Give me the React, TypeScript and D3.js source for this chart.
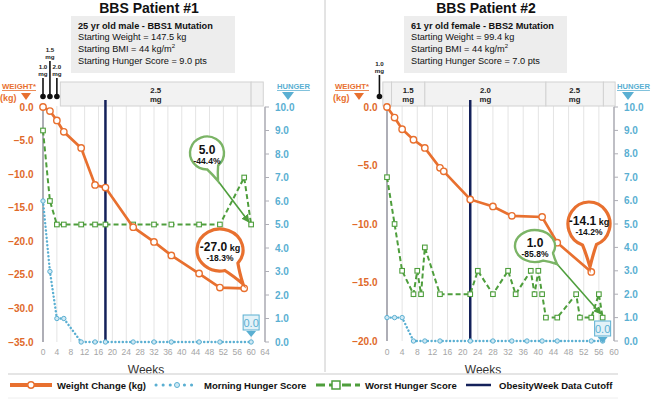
import React from 'react';
import * as d3 from 'd3';

const FONT = "'Liberation Sans', Arial, Helvetica, sans-serif";
const ORANGE = '#E8702F';
const ORANGE_TXT = '#E0692A';
const BLUE = '#5AAFD2';
const GREEN = '#4E9E3C';
const GREEN_CALLOUT = '#7BB466';
const NAVY = '#14215A';
const AXIS_GRAY = '#AEAEB6';
const GRID = '#E4E4E4';

// ---------- Patient 1 data ----------
const p1Title = 'BBS Patient #1';
const p1Info = ['25 yr old male - BBS1 Mutation', 'Starting Weight = 147.5 kg', 'Starting BMI = 44 kg/m', 'Starting Hunger Score = 9.0 pts'];
const p1WeightWeeks = [0, 2, 4, 6, 11, 15, 18, 26, 32, 37, 45, 51, 58];
const p1Weight = [0, -0.6, -2.0, -3.7, -6.1, -11.6, -12.0, -17.9, -20.1, -22.1, -24.8, -26.9, -27.0];
const p1MorningWeeks = [0, 2, 4, 6, 11, 15, 18, 26, 32, 37, 45, 51, 60];
const p1Morning = [6, 3, 1, 1, 0, 0, 0, 0, 0, 0, 0, 0, 0];
const p1WorstWeeks = [0, 2, 4, 6, 11, 15, 18, 26, 32, 37, 45, 51, 58, 60];
const p1Worst = [9, 6, 5, 5, 5, 5, 5, 5, 5, 5, 5, 5, 7, 5];
const p1Cutoff = 18;
const p1XTicks = d3.range(0, 65, 4);
const p1WTicks = [0, -5, -10, -15, -20, -25, -30, -35];
const p1DoseCells = [{ from: 5, to: 60, label: '2.5' }, { from: 60, to: 63.5, label: '' }];
const p1Pins = [{ week: 0, label: '1.0', high: false }, { week: 2, label: '1.5', high: true }, { week: 4, label: '2.0', high: false }];
const p1WeightCallout = { main: '-27.0', unit: ' kg', pct: '-18.3%' };
const p1HungerCallout = { main: '5.0', pct: '-44.4%' };
const p1MorningCallout = '0.0';

// ---------- Patient 2 data ----------
const p2Title = 'BBS Patient #2';
const p2Info = ['61 yr old female - BBS2 Mutation', 'Starting Weight = 99.4 kg', 'Starting BMI = 44 kg/m', 'Starting Hunger Score = 7.0 pts'];
const p2WeightWeeks = [0, 2, 4, 7, 10, 14, 15, 22, 28, 33, 41, 45, 54];
const p2Weight = [0, -0.9, -1.9, -2.8, -3.5, -5.2, -5.5, -7.9, -8.5, -9.3, -9.4, -11.6, -14.1];
const p2MorningWeeks = [0, 2, 4, 7, 10, 14, 22, 28, 33, 37, 41, 45, 54, 57];
const p2Morning = [1, 1, 1, 0, 0, 0, 0, 0, 0, 0, 0, 0, 0, 0];
const p2WorstWeeks = [0, 2, 4, 7, 8, 9, 10, 14, 22, 24, 28, 32, 34, 38, 39, 40, 41, 42, 45, 50, 51, 54, 56, 57];
const p2Worst = [7, 5, 3, 2, 3, 2, 4, 2, 2, 3, 2, 3, 2, 3, 2, 3, 2, 1, 1, 2, 1, 1, 2, 1];
const p2Cutoff = 22;
const p2XTicks = d3.range(0, 61, 4);
const p2WTicks = [0, -5, -10, -15, -20];
const p2DoseCells = [{ from: -1.1, to: 1.2, label: '' }, { from: 1.2, to: 10, label: '1.5' }, { from: 10, to: 42, label: '2.0' }, { from: 42, to: 57.2, label: '2.5' }, { from: 57.2, to: 60.3, label: '' }];
const p2Pins = [{ week: -2, label: '1.0', high: false }];
const p2WeightCallout = { main: '-14.1', unit: ' kg', pct: '-14.2%' };
const p2HungerCallout = { main: '1.0', pct: '-85.8%' };
const p2MorningCallout = '0.0';

const hungerTicks = d3.range(0, 11, 1);

const legendItems = [
  { label: 'Weight Change (kg)', kind: 'weight' },
  { label: 'Morning Hunger Score', kind: 'morning' },
  { label: 'Worst Hunger Score', kind: 'worst' },
  { label: 'ObesityWeek Data Cutoff', kind: 'cutoff' },
];

type Pt = [number, number];

function bubblePath(cx: number, cy: number, rx: number, ry: number, tip: Pt, d = 0.38) {
  const th = Math.atan2((tip[1] - cy) / ry, (tip[0] - cx) / rx);
  const a1 = th + d, a2 = th - d;
  const p1 = [cx + rx * Math.cos(a1), cy + ry * Math.sin(a1)];
  const p2 = [cx + rx * Math.cos(a2), cy + ry * Math.sin(a2)];
  const m1 = [(p1[0] + tip[0]) / 2, (p1[1] + tip[1]) / 2];
  const m2 = [(p2[0] + tip[0]) / 2, (p2[1] + tip[1]) / 2];
  return `M${p1[0]},${p1[1]} A${rx},${ry} 0 1 1 ${p2[0]},${p2[1]} Q${m2[0] - (tip[0] - cx) * 0.05},${m2[1] - (tip[1] - cy) * 0.05} ${tip[0]},${tip[1]} Q${m1[0] - (tip[0] - cx) * 0.05},${m1[1] - (tip[1] - cy) * 0.05} ${p1[0]},${p1[1]} Z`;
}

interface Cfg {
  id: string;
  title: string; titleX: number;
  info: string[]; infoX: number; infoW: number;
  weightWeeks: number[]; weight: number[];
  morningWeeks: number[]; morning: number[];
  worstWeeks: number[]; worst: number[];
  cutoff: number;
  xTicks: number[]; xMax: number; x0: number; x1: number;
  wTicks: number[]; wMin: number; yTop: number; yBottom: number;
  doseCells: { from: number; to: number; label: string }[];
  pins: { week: number; label: string; high: boolean }[];
  weightCallout: { main: string; unit: string; pct: string };
  hungerCallout: { main: string; pct: string };
  morningCallout: string; mBoxOff: number;
  wc: { cx: number; cy: number; rx: number; ry: number; tip: Pt };
  hc: { cx: number; cy: number; rx: number; ry: number; tip: Pt; arrowTo: Pt };
  weightTitleX: number; hungerTitleX: number; weeksX: number;
}

function Panel({ c }: { c: Cfg }) {
  const x = d3.scaleLinear().domain([0, c.xMax]).range([c.x0, c.x1]);
  const yW = d3.scaleLinear().domain([c.wMin, 0]).range([c.yBottom, c.yTop]);
  const yH = d3.scaleLinear().domain([0, 10]).range([c.yBottom, c.yTop]);
  const line = d3.line<[number, number]>().x(d => d[0]).y(d => d[1]);
  const wPts: Pt[] = c.weightWeeks.map((w, i) => [x(w), yW(c.weight[i])]);
  const mPts: Pt[] = c.morningWeeks.map((w, i) => [x(w), yH(c.morning[i])]);
  const woPts: Pt[] = c.worstWeeks.map((w, i) => [x(w), yH(c.worst[i])]);
  const lastM = mPts[mPts.length - 1];
  const boxTop = 82, boxBot = 106;
  const axisR = c.x1;
  const mb = c.mBoxOff;
  return (
    <g fontFamily={FONT}>
      {/* title */}
      <text x={c.titleX} y={13} textAnchor="middle" fontWeight="bold" fontSize={14} fill="#111">{c.title}</text>
      <rect x={c.infoX} y={16} width={c.infoW} height={57} fill="#EDEDED" />
      {c.info.map((t, i) => (
        <text key={i} x={c.infoX + 7} y={28.5 + i * 11.7} fontSize={9.2} fontWeight={i === 0 ? 'bold' : 'normal'} fill="#111">
          {t}{i === 2 ? <tspan dy={-3.5} fontSize={6}>2</tspan> : null}
        </text>
      ))}
      {/* grid */}
      {c.xTicks.filter(t => t > 0).map(t => (
        <line key={t} x1={x(t)} x2={x(t)} y1={c.yTop - 1} y2={c.yBottom} stroke={GRID} strokeWidth={1} />
      ))}
      {/* dose box */}
      {c.doseCells.map((d, i) => (
        <g key={i}>
          <rect x={x(d.from)} y={boxTop} width={x(d.to) - x(d.from)} height={boxBot - boxTop} fill="#F2F2F2" stroke="#D2D2D2" strokeWidth={1} />
          {d.label && <text x={(x(d.from) + x(d.to)) / 2} y={93} textAnchor="middle" fontSize={7.8} fontWeight="bold" fill="#222">{d.label}</text>}
          {d.label && <text x={(x(d.from) + x(d.to)) / 2} y={102} textAnchor="middle" fontSize={7.8} fontWeight="bold" fill="#222">mg</text>}
        </g>
      ))}
      {c.pins.map((p, i) => {
        const px = x(p.week);
        const ly = p.high ? 52 : (c.id === 'p2' ? 66 : 69);
        return (
          <g key={i}>
            <line x1={px} x2={px} y1={ly + 9} y2={96} stroke="#111" strokeWidth={1.6} />
            <circle cx={px} cy={96.5} r={2.8} fill="#111" />
            <text x={px} y={ly} textAnchor="middle" fontSize={6.2} fontWeight="bold" fill="#222">{p.label}</text>
            <text x={px} y={ly + 6.5} textAnchor="middle" fontSize={6.2} fontWeight="bold" fill="#222">mg</text>
          </g>
        );
      })}
      {/* axes */}
      <line x1={c.x0} x2={c.x0} y1={c.yTop} y2={c.yBottom} stroke={AXIS_GRAY} strokeWidth={2} />
      <line x1={axisR} x2={axisR} y1={c.yTop} y2={c.yBottom} stroke={AXIS_GRAY} strokeWidth={1.5} />
      {hungerTicks.map(t => (
        <g key={t}>
          <line x1={axisR} x2={axisR + 4} y1={yH(t)} y2={yH(t)} stroke={AXIS_GRAY} strokeWidth={1} />
          <text x={axisR + 10} y={yH(t) + 3.5} fontSize={10} fontWeight="bold" fill={BLUE}>{d3.format('.1f')(t)}</text>
        </g>
      ))}
      {c.wTicks.map(t => (
        <text key={t} x={c.x0 - 9.5} y={yW(t) + 3.5} textAnchor="end" fontSize={10} fontWeight="bold" fill={ORANGE_TXT}>{d3.format('.1f')(t)}</text>
      ))}
      {c.xTicks.map(t => (
        <text key={t} x={x(t)} y={355} textAnchor="middle" fontSize={8.5} fill="#A5A5A5">{t}</text>
      ))}
      <text x={c.weeksX} y={374} textAnchor="middle" fontSize={12} fill="#333">Weeks</text>
      {/* axis titles */}
      <text x={c.weightTitleX} y={89} fontSize={8} fontWeight="bold" fill={ORANGE} textDecoration="underline" textLength={34} lengthAdjust="spacingAndGlyphs">WEIGHT*</text>
      <text x={c.weightTitleX - 2} y={101} fontSize={9} fontWeight="bold" fill={ORANGE}>(kg)</text>
      <path d={`M${c.weightTitleX + 19},93 L${c.weightTitleX + 29},93 L${c.weightTitleX + 24},100 Z`} fill={ORANGE} />
      <text x={c.hungerTitleX} y={89} fontSize={7.6} fontWeight="bold" fill={BLUE} textDecoration="underline">HUNGER</text>
      <path d={`M${c.hungerTitleX + 5},92 L${c.hungerTitleX + 17},92 L${c.hungerTitleX + 11},100 Z`} fill={BLUE} />
      {/* cutoff */}
      <line x1={x(c.cutoff)} x2={x(c.cutoff)} y1={c.yTop - 7} y2={c.yBottom} stroke={NAVY} strokeWidth={2.5} />
      {/* morning hunger */}
      <path d={line(mPts) || ''} fill="none" stroke={BLUE} strokeWidth={2.4} strokeDasharray="0.1 3.6" strokeLinecap="round" />
      {mPts.map((p, i) => <circle key={i} cx={p[0]} cy={p[1]} r={2.2} fill="#CFE9F4" stroke={BLUE} strokeWidth={1} />)}
      {/* worst hunger */}
      <path d={line(woPts) || ''} fill="none" stroke={GREEN} strokeWidth={2} strokeDasharray="5 3" />
      {woPts.map((p, i) => <rect key={i} x={p[0] - 2.3} y={p[1] - 2.3} width={4.6} height={4.6} fill="#fff" stroke={GREEN} strokeWidth={1.1} />)}
      {/* weight */}
      <path d={line(wPts) || ''} fill="none" stroke={ORANGE} strokeWidth={2.7} />
      {wPts.map((p, i) => <circle key={i} cx={p[0]} cy={p[1]} r={3.2} fill="#fff" stroke={ORANGE} strokeWidth={1.4} />)}
      {/* hunger callout */}
      <line x1={c.hc.tip[0]} y1={c.hc.tip[1]} x2={c.hc.arrowTo[0]} y2={c.hc.arrowTo[1]} stroke={GREEN} strokeWidth={1.6} markerEnd={`url(#arr-${c.id})`} />
      <path d={bubblePath(c.hc.cx, c.hc.cy, c.hc.rx, c.hc.ry, c.hc.tip, 0.35)} fill="#fff" stroke={GREEN_CALLOUT} strokeWidth={2.4} />
      <text x={c.hc.cx} y={c.hc.cy + 0.5} textAnchor="middle" fontSize={12} fontWeight="bold" fill="#111">{c.hungerCallout.main}</text>
      <text x={c.hc.cx} y={c.hc.cy + 11} textAnchor="middle" fontSize={8.5} fontWeight="bold" fill="#111">{c.hungerCallout.pct}</text>
      {/* weight callout */}
      <path d={bubblePath(c.wc.cx, c.wc.cy, c.wc.rx, c.wc.ry, c.wc.tip, 0.34)} fill="#fff" stroke={ORANGE} strokeWidth={3.2} />
      <text x={c.wc.cx} y={c.wc.cy + 0.5} textAnchor="middle" fontSize={12} fontWeight="bold" fill="#111">{c.weightCallout.main}<tspan fontSize={9}>{c.weightCallout.unit}</tspan></text>
      <text x={c.wc.cx} y={c.wc.cy + 11} textAnchor="middle" fontSize={8.5} fontWeight="bold" fill="#111">{c.weightCallout.pct}</text>
      {/* morning callout */}
      <rect x={lastM[0] - 8} y={lastM[1] - mb - 15} width={16} height={15} fill="#E3F2F8" stroke={BLUE} strokeWidth={1} />
      <text x={lastM[0]} y={lastM[1] - mb - 3.5} textAnchor="middle" fontSize={11} fill={BLUE}>{c.morningCallout}</text>
      <path d={`M${lastM[0] - 5},${lastM[1] - mb + 1} L${lastM[0] + 5},${lastM[1] - mb + 1} L${lastM[0]},${lastM[1] - mb + 7} Z`} fill={BLUE} />
    </g>
  );
}

const cfg1: Cfg = {
  id: 'p1', title: p1Title, titleX: 149, info: p1Info, infoX: 71, infoW: 164,
  weightWeeks: p1WeightWeeks, weight: p1Weight, morningWeeks: p1MorningWeeks, morning: p1Morning,
  worstWeeks: p1WorstWeeks, worst: p1Worst, cutoff: p1Cutoff,
  xTicks: p1XTicks, xMax: 64, x0: 43, x1: 265, wTicks: p1WTicks, wMin: -35, yTop: 107, yBottom: 342,
  doseCells: p1DoseCells, pins: p1Pins, weightCallout: p1WeightCallout, hungerCallout: p1HungerCallout, morningCallout: p1MorningCallout, mBoxOff: 12,
  wc: { cx: 220, cy: 250, rx: 23, ry: 21, tip: [243, 284] },
  hc: { cx: 207, cy: 153, rx: 17, ry: 16.5, tip: [218, 181], arrowTo: [249, 222] },
  weightTitleX: 2, hungerTitleX: 277, weeksX: 146,
};
const cfg2: Cfg = {
  id: 'p2', title: p2Title, titleX: 486, info: p2Info, infoX: 404, infoW: 163,
  weightWeeks: p2WeightWeeks, weight: p2Weight, morningWeeks: p2MorningWeeks, morning: p2Morning,
  worstWeeks: p2WorstWeeks, worst: p2Worst, cutoff: p2Cutoff,
  xTicks: p2XTicks, xMax: 60, x0: 387, x1: 614, wTicks: p2WTicks, wMin: -20, yTop: 107, yBottom: 341,
  doseCells: p2DoseCells, pins: p2Pins, weightCallout: p2WeightCallout, hungerCallout: p2HungerCallout, morningCallout: p2MorningCallout, mBoxOff: 5,
  wc: { cx: 589, cy: 224, rx: 21, ry: 22, tip: [590, 267] },
  hc: { cx: 535, cy: 246, rx: 20, ry: 16, tip: [557, 264], arrowTo: [601, 314] },
  weightTitleX: 335, hungerTitleX: 617, weeksX: 483,
};

function Legend() {
  const y = 385;
  const xs = [10, 152, 316, 466];
  return (
    <g fontFamily={FONT}>
      <line x1={8} x2={618} y1={374} y2={374} stroke="#DDDDDD" strokeWidth={1.5} />
      {legendItems.map((it, i) => {
        const x0 = xs[i];
        let mark: React.ReactNode = null;
        let tx = 0;
        if (it.kind === 'weight') {
          mark = <g><line x1={x0} x2={x0 + 42} y1={y} y2={y} stroke={ORANGE} strokeWidth={4} /><circle cx={x0 + 21} cy={y} r={3.2} fill="#fff" stroke={ORANGE} strokeWidth={1.4} /></g>;
          tx = x0 + 47;
        } else if (it.kind === 'morning') {
          mark = <g><line x1={x0 + 4} x2={x0 + 44} y1={y} y2={y} stroke={BLUE} strokeWidth={3} strokeDasharray="0.1 7" strokeLinecap="round" /><circle cx={x0 + 25} cy={y} r={2.5} fill="#CFE9F4" stroke={BLUE} strokeWidth={1} /></g>;
          tx = x0 + 52;
        } else if (it.kind === 'worst') {
          mark = <g><line x1={x0} x2={x0 + 44} y1={y} y2={y} stroke={GREEN} strokeWidth={3} strokeDasharray="9 4" /><rect x={x0 + 16} y={y - 4} width={8} height={8} fill="#fff" stroke={GREEN} strokeWidth={1.5} /></g>;
          tx = x0 + 49;
        } else {
          mark = <line x1={x0} x2={x0 + 25} y1={y} y2={y} stroke={NAVY} strokeWidth={2.5} />;
          tx = x0 + 33;
        }
        return (
          <g key={i}>
            {mark}
            <text x={tx} y={y + 3.5} fontSize={9.5} fontWeight="bold" fill="#111">{it.label}</text>
          </g>
        );
      })}
      <line x1={8} x2={618} y1={398} y2={398} stroke="#EEEEEE" strokeWidth={1} />
    </g>
  );
}

export default function App() {
  return (
    <svg width={651} height={404} viewBox="0 0 651 404" style={{ position: 'absolute', left: 0, top: 0, background: '#fff' }}>
      <defs>
        {['p1', 'p2'].map(id => (
          <marker key={id} id={`arr-${id}`} viewBox="0 0 10 10" refX={9} refY={5} markerWidth={5} markerHeight={5} orient="auto">
            <path d="M0,0 L10,5 L0,10 Z" fill={GREEN} />
          </marker>
        ))}
      </defs>
      <rect width={651} height={404} fill="#fff" />
      <line x1={325} x2={325} y1={0} y2={372} stroke="#C8C8C8" strokeWidth={1} />
      <Panel c={cfg1} />
      <Panel c={cfg2} />
      <Legend />
    </svg>
  );
}
